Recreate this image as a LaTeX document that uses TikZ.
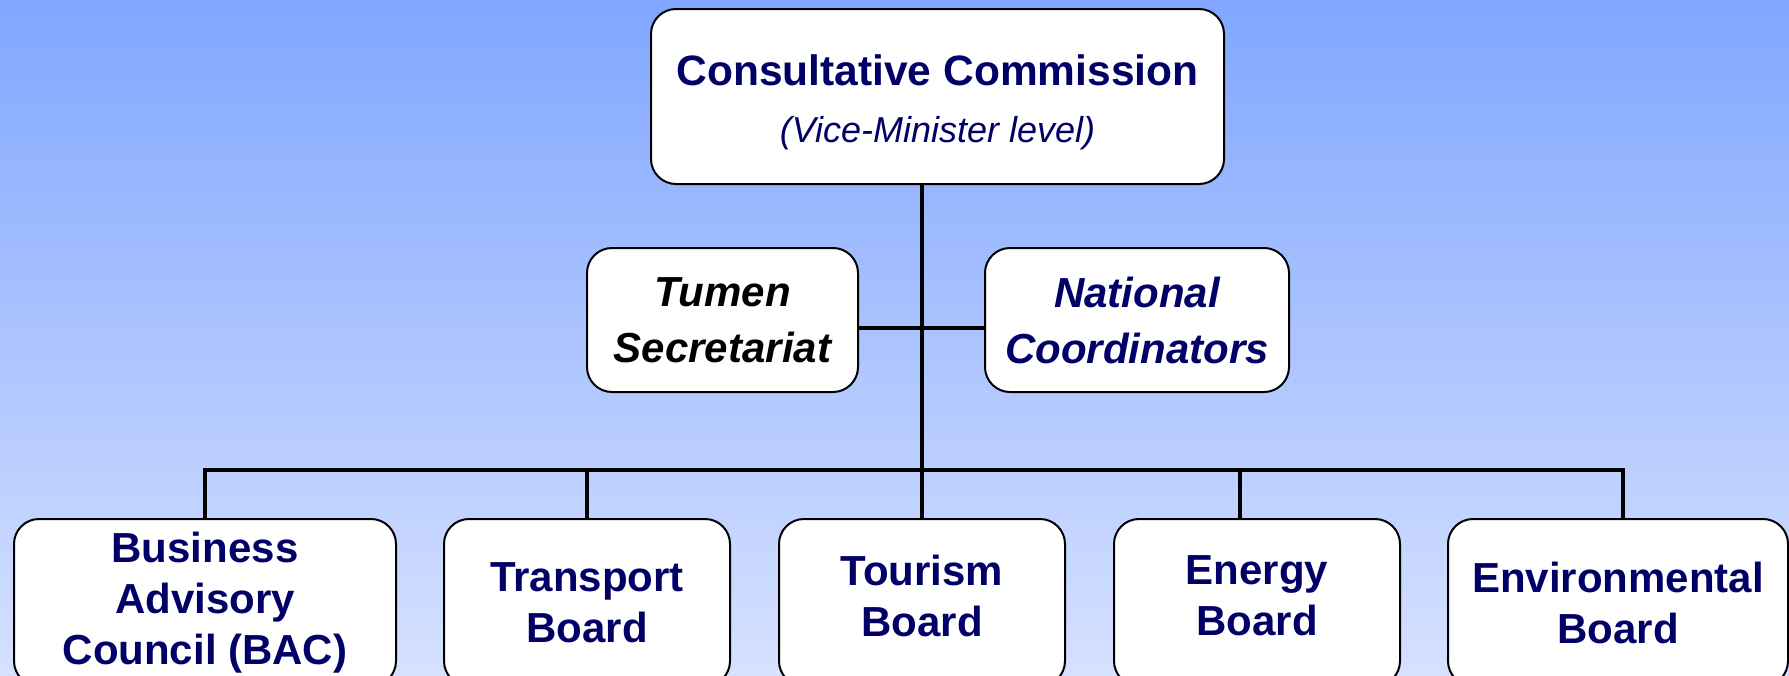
\documentclass[tikz,border=0pt]{standalone}
\usepackage{fontspec}
\setmainfont{Liberation Sans}
\definecolor{bgtop}{RGB}{128,166,255}
\definecolor{bgbot}{RGB}{214,225,255}
\definecolor{navy}{RGB}{0,0,102}
\begin{document}
\begin{tikzpicture}[x=1pt,y=-1pt,
  box/.style={draw=black, line width=2pt, fill=white, rounded corners=25pt,
    inner sep=0pt, align=center, text=navy,
    font=\fontsize{42}{51}\selectfont\bfseries},
  midbox/.style={box, minimum height=144pt,
    font=\fontsize{42}{56}\selectfont\bfseries\itshape},
  botbox/.style={box, minimum height=167pt},
  conn/.style={line width=4.5pt, black, line join=miter}]
\useasboundingbox (0,0) rectangle (1789,675);
\clip (0,0) rectangle (1789,675);
\shade[top color=bgtop, bottom color=bgbot] (0,0) rectangle (1789,675);

% top
\node[box, minimum width=573pt, minimum height=175pt,
  font=\fontsize{42.5}{57}\selectfont] (cc) at (937.5,96.5)
  {\rule{0pt}{43pt}\textbf{Consultative Commission}\\{\fontsize{36}{57}\selectfont\itshape (Vice-Minister level)}};

% middle
\node[midbox, minimum width=271pt, text=black] (ts) at (722.5,320) {Tumen\\Secretariat};
\node[midbox, minimum width=304pt] (nc) at (1137,320) {National\\Coordinators};

% bottom
\node[botbox, minimum width=382pt] (bac) at (205,602.5) {Business\\Advisory\\Council (BAC)};
\node[botbox, minimum width=286pt] (tb) at (587,602.5) {Transport\\Board};
\node[botbox, minimum width=286pt] (tour) at (922,602.5) {Tourism\\Board\rule[-13pt]{0pt}{13pt}};
\node[botbox, minimum width=286pt] (en) at (1257,602.5) {Energy\\Board\rule[-13pt]{0pt}{13pt}};
\node[botbox, minimum width=340pt] (env) at (1618,602.5) {Environmental\\Board};

% connectors
\coordinate (bus) at (922,470);
\coordinate (endrop) at ([xshift=-17pt]en.north);
\coordinate (envdrop) at ([xshift=5pt]env.north);
\draw[conn] (cc.south -| bus) -- (bus);
\draw[conn] ([yshift=-8pt]ts.east) -- ([yshift=-8pt]nc.west);
\draw[conn] (bac.north) -- (bac.north |- bus) -- (envdrop |- bus) -- (envdrop);
\draw[conn] (tb.north) -- (tb.north |- bus);
\draw[conn] (tour.north) -- (bus);
\draw[conn] (endrop) -- (endrop |- bus);
\end{tikzpicture}
\end{document}
